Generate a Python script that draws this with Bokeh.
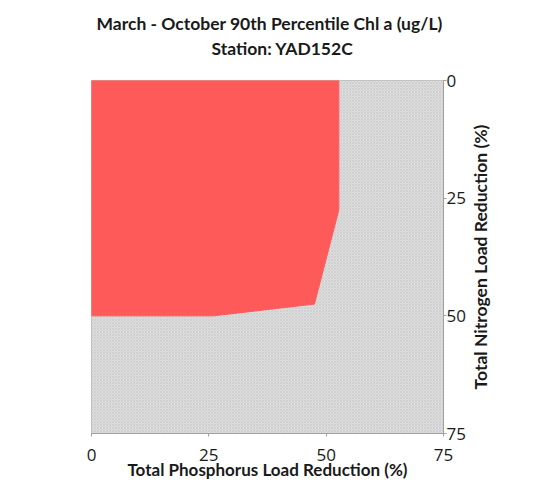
import math
from bokeh.plotting import figure
from bokeh.models import Range1d, FixedTicker, BoxAnnotation, Title, Label
from bokeh.layouts import row
from bokeh.embed import file_html
from bokeh.resources import INLINE

# Data
tp_reduction = [0, 52.7, 52.7, 47.5, 26, 0]      # Total Phosphorus load reduction (%)
tn_reduction = [0, 0, 27.5, 47.5, 50, 50]        # Total Nitrogen load reduction (%)
tick_values = [0, 25, 50, 75]
axis_min, axis_max = 0, 75

title_main = "March - October 90th Percentile Chl a (ug/L)"
title_sub = "Station: YAD152C"
x_label = "Total Phosphorus Load Reduction (%)"
y_label = "Total Nitrogen Load Reduction (%)"

TOP, BOTTOM = 80, 55
Q_WIDTH = 50

p = figure(width=469, height=488, output_backend="svg", toolbar_location=None,
           x_range=Range1d(axis_min, axis_max), y_range=Range1d(axis_max, axis_min),
           y_axis_location="right",
           min_border_left=91, min_border_right=26, min_border_top=TOP, min_border_bottom=BOTTOM)
p.title = None
p.outline_line_color = "#b8b8b8"
p.outline_line_width = 1
p.background_fill_color = "#dedede"
p.border_fill_color = "white"
p.grid.visible = False

# gray textured region (whole frame)
p.add_layout(BoxAnnotation(fill_color="#dedede", fill_alpha=1, line_alpha=0,
                           hatch_pattern="diagonal_cross", hatch_scale=3,
                           hatch_color="#c6c6c6", hatch_weight=0.6, level="underlay"))

p.patch(tp_reduction, tn_reduction, fill_color="#ff5a5a", line_color="#ff5a5a", line_width=1)

for ax in (p.xaxis[0], p.yaxis[0]):
    ax.ticker = FixedTicker(ticks=tick_values)
    ax.axis_line_color = "#a0a0a0"
    ax.major_tick_line_color = "#a0a0a0"
    ax.major_tick_out = 3
    ax.major_tick_in = 0
    ax.minor_tick_line_color = None
    ax.major_label_text_font = "Open Sans"
    ax.major_label_text_font_size = "17px"
    ax.major_label_text_color = "#1a1a1a"
    ax.axis_label_text_font = "Lato"
    ax.axis_label_text_font_style = "bold"
    ax.axis_label_text_font_size = "17px"
    ax.axis_label_text_color = "#1a1a1a"

p.xaxis.axis_label = x_label
p.xaxis.major_label_standoff = 12
p.xaxis.axis_label_standoff = -5
p.yaxis.major_label_standoff = 0

p.add_layout(Title(text=title_sub, align="left", offset=120, text_font="Lato",
                   text_font_size="17.5px", text_font_style="bold", text_color="#1a1a1a",
                   standoff=44), "above")
p.add_layout(Title(text=title_main, align="left", offset=5, text_font="Lato",
                   text_font_size="17.5px", text_font_style="bold", text_color="#1a1a1a",
                   standoff=-40), "above")

# narrow companion figure holding the nitrogen title (reads bottom-to-top)
q = figure(width=Q_WIDTH, height=488, output_backend="svg", toolbar_location=None,
           x_range=Range1d(0, Q_WIDTH), y_range=Range1d(axis_max, axis_min),
           min_border_left=0, min_border_right=0, min_border_top=TOP, min_border_bottom=BOTTOM)
q.title = None
q.outline_line_color = None
q.grid.visible = False
q.xaxis.visible = False
q.yaxis.visible = False
q.background_fill_color = "white"
q.border_fill_color = "white"
q.add_layout(Label(x=11, y=(axis_min + axis_max) / 2, text=y_label, angle=math.pi / 2,
                   text_align="center", text_baseline="middle",
                   text_font="Lato", text_font_style="bold", text_font_size="17.5px",
                   text_color="#1a1a1a"))

layout = row(p, q, spacing=0)
open("out.html", "w").write(file_html(layout, INLINE))
